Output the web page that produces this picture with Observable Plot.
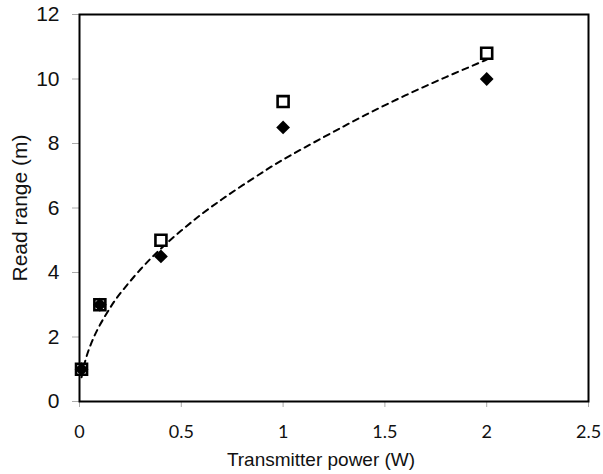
<!DOCTYPE html>
<html>
<head>
<meta charset="utf-8">
<script src="https://cdn.jsdelivr.net/npm/d3@7"></script>
<script src="https://cdn.jsdelivr.net/npm/@observablehq/plot@0.6"></script>
<style>
  html, body { margin: 0; padding: 0; background: #fff; }
  #chart svg { display: block; }
</style>
</head>
<body>
<div id="chart"></div>
<script>
// Measured data: open squares and filled diamonds
const powerW = [0.01, 0.1, 0.4, 1.0, 2.0];
const rangeSquares = [1.0, 3.0, 5.0, 9.3, 10.8];
const rangeDiamonds = [1.0, 3.0, 4.5, 8.5, 10.0];

// Dashed trend curve
const curveX = [0.01, 0.03, 0.06, 0.1, 0.15, 0.2, 0.3, 0.4, 0.5, 0.6, 0.7, 0.8, 0.9, 1.0, 1.2, 1.4, 1.6, 1.8, 2.0];
const curveY = [0.75, 1.3, 1.84, 2.37, 2.9, 3.35, 4.1, 4.74, 5.3, 5.81, 6.27, 6.7, 7.11, 7.5, 8.2, 8.87, 9.49, 10.06, 10.6];

// Axis ticks and labels
const xTicks = [0, 0.5, 1, 1.5, 2, 2.5];
const yTicks = [0, 2, 4, 6, 8, 10, 12];
const xTitle = "Transmitter power (W)";
const yTitle = "Read range (m)";

const squares = powerW.map((x, i) => ({x, y: rangeSquares[i]}));
const diamonds = powerW.map((x, i) => ({x, y: rangeDiamonds[i]}));
const curve = curveX.map((x, i) => ({x, y: curveY[i]}));

const chart = Plot.plot({
  width: 603,
  height: 474,
  marginLeft: 79,
  marginRight: 15,
  marginTop: 14,
  marginBottom: 73,
  x: {domain: [0, 2.5]},
  y: {domain: [0, 12]},
  style: {fontFamily: "'Liberation Sans', Arial, sans-serif", color: "#111"},
  marks: [
    Plot.axisX(xTicks, {tickSize: 6, tickPadding: 18, fontSize: 18, stroke: "#aaa", fill: "#111", fontFamily: "Lato, 'Liberation Sans', sans-serif", label: null, tickFormat: d => String(d)}),
    Plot.axisY(yTicks, {tickSize: 7, tickPadding: 13, fontSize: 21, stroke: "#aaa", fill: "#111", label: null, tickFormat: d => String(d)}),
    Plot.frame({stroke: "#000", strokeWidth: 2}),
    Plot.line(curve, {x: "x", y: "y", stroke: "#000", strokeWidth: 2, strokeDasharray: "6,5", curve: "natural"}),
    Plot.dot(squares, {x: "x", y: "y", symbol: "square", r: 6.2, fill: "#fff", stroke: "#000", strokeWidth: 2.6}),
    Plot.dot(diamonds, {x: "x", y: "y", symbol: "diamond2", r: 6.2, fill: "#000", stroke: "none"}),
    Plot.text([yTitle], {frameAnchor: "left", textAnchor: "middle", dx: -59, rotate: -90, fontSize: 21, fill: "#111"}),
    Plot.text([xTitle], {frameAnchor: "bottom", textAnchor: "middle", dx: -13, dy: 64, fontSize: 19, fill: "#111"})
  ]
});
document.getElementById("chart").appendChild(chart);
</script>
</body>
</html>
